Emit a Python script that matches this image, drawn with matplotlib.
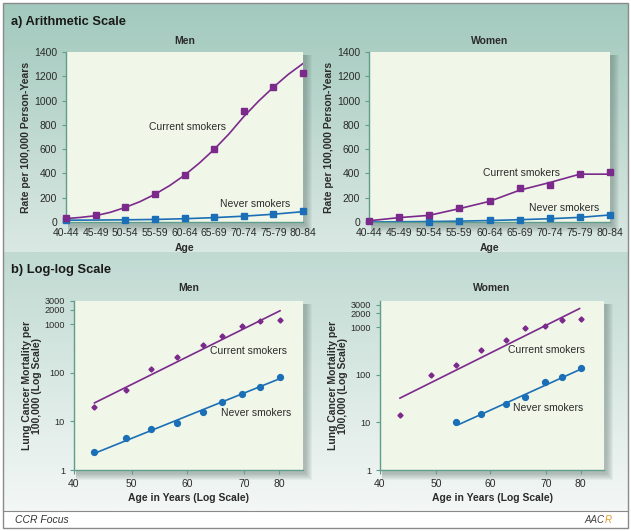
import numpy as np
import matplotlib.pyplot as plt
from matplotlib.patches import Rectangle

plt.rcParams['font.family'] = ['Liberation Sans', 'DejaVu Sans']

# ---- a) arithmetic scale data ----
age_groups = ['40-44', '45-49', '50-54', '55-59', '60-64', '65-69', '70-74', '75-79', '80-84']

men_current = [33, 61, 124, 229, 386, 598, 915, 1113, 1229]
men_never = [18, np.nan, 19, 22, 30, 39, 52, 66, 88]
# fitted curve, read at every half age group
men_current_fit_x = [0, 0.5, 1, 1.5, 2, 2.5, 3, 3.5, 4, 4.5, 5, 5.5, 6, 6.5, 7, 7.5, 8]
men_current_fit = [28, 38, 52, 80, 120, 168, 228, 300, 385, 485, 598, 725, 868, 995, 1110, 1215, 1305]
men_never_fit = [15, 16, 18, 21, 27, 36, 48, 64, 85]

women_current = [8, 39, 55, 116, 171, 281, 308, 394, 410]
women_current_fit = [10, 36, 55, 110, 170, 262, 325, 394, 394]
women_never = [np.nan, np.nan, 2, 10, 14, 19, 30, 39, 61]
women_never_fit = [0, 2, 4, 7, 12, 19, 27, 38, 58]

# ---- b) log-log scale data ----
ages = [44.4, 49.1, 53.2, 57.8, 62.7, 66.7, 71.1, 75.2, 80.2]
log_men_current = [19.8, 44.5, 121, 211, 368, 583, 924, 1172, 1230]
log_men_never = [2.3, 4.45, 6.9, 9.4, 15.6, 25, 36.8, 51.3, 82.7]
log_women_current = [14.4, 98, 160, 339, 536, 966, 1066, 1455, 1528]
log_women_never = [np.nan, np.nan, 10.4, 14.9, 23.9, 33.8, 70.5, 90.1, 140]

men_current_line = ([44.4, 80.2], [24, 1888])
men_never_line = ([44.4, 80.2], [2.2, 76])
women_current_line = ([44.4, 79.7], [32.6, 2495])
women_never_line = ([53.8, 79.7], [9.1, 129])

log_xtick_pos = [41.6, 50, 59.6, 71.5, 80]
log_xtick_labels = ['40', '50', '60', '70', '80']
log_yticks = [1, 10, 100, 1000, 2000, 3000]

PURPLE = '#7b2a8c'
BLUE = '#1b6fb6'
SPINE = '#5f9e8c'
FACE = '#f0f6e8'
TXT = '#2b2b2b'

W, H = 631, 531
fig = plt.figure(figsize=(W / 100, H / 100), dpi=100)

# background canvas in pixel coordinates
bg = fig.add_axes([0, 0, 1, 1], zorder=-10)
bg.axis('off')


def gradient(y0, y1, c0, c1):
    c0 = np.array(plt.matplotlib.colors.to_rgb(c0))
    c1 = np.array(plt.matplotlib.colors.to_rgb(c1))
    t = np.linspace(0, 1, 64)[:, None]
    img = (c0 * (1 - t) + c1 * t)[:, None, :]
    bg.imshow(img, extent=[3, 628, y1, y0], aspect='auto', interpolation='bilinear', zorder=0)


gradient(3, 252, '#a2c9bd', '#dae8e3')
gradient(252, 511, '#c0dad2', '#f3f7f5')
bg.add_patch(Rectangle((3, 511), 625, 17, facecolor='white', edgecolor='none', zorder=1))
bg.plot([3, 628], [511, 511], color='#8a8a8a', lw=0.8, zorder=2)
bg.add_patch(Rectangle((3, 3), 625, 525, facecolor='none', edgecolor='#8a8a8a', lw=1.0, zorder=3))
bg.set_xlim(0, W)
bg.set_ylim(H, 0)

bg.text(11, 22, 'a) Arithmetic Scale', fontsize=9.3, fontweight='bold', color='#1a1a1a', va='center')
bg.text(11, 270, 'b) Log-log Scale', fontsize=9.3, fontweight='bold', color='#1a1a1a', va='center')
bg.text(15, 520, 'CCR Focus', fontsize=7.5, style='italic', color='#333333', va='center')
bg.text(604, 520, 'AAC', fontsize=7, style='italic', color='#444444', va='center', ha='right')
bg.text(605, 520, 'R', fontsize=7, style='italic', color='#e39a2c', va='center', ha='left')


def make_axes(x0, x1, y0, y1):
    for k in range(1, 8):
        bg.add_patch(Rectangle((x0 + 2, y0 + 3), (x1 - x0) + k, (y1 - y0) + k,
                               facecolor='#5d706a', edgecolor='none', alpha=0.07, zorder=4))
    ax = fig.add_axes([x0 / W, 1 - y1 / H, (x1 - x0) / W, (y1 - y0) / H])
    ax.set_facecolor(FACE)
    for s in ['top', 'right']:
        ax.spines[s].set_visible(False)
    for s in ['left', 'bottom']:
        ax.spines[s].set_color(SPINE)
        ax.spines[s].set_linewidth(1.0)
    ax.tick_params(colors=SPINE, labelcolor=TXT, labelsize=7.5, length=3, width=0.8)
    return ax


def arith_panel(ax, title, cur, cur_fit_x, cur_fit, nev, nev_fit, labels):
    x = np.arange(len(age_groups))
    ax.plot(x, nev_fit, color=BLUE, lw=1.2, zorder=2)
    ax.plot(x, nev, 's', color=BLUE, ms=3.8, zorder=3, clip_on=False)
    ax.plot(cur_fit_x, cur_fit, color=PURPLE, lw=1.2, zorder=2)
    ax.plot(x, cur, 's', color=PURPLE, ms=3.8, zorder=3, clip_on=False)
    ax.set_xlim(0, 8)
    ax.set_ylim(0, 1400)
    ax.set_yticks(range(0, 1401, 200))
    ax.set_xticks(x)
    ax.set_xticklabels(age_groups)
    ax.tick_params(axis='x', length=0, pad=4)
    ax.set_title(title, fontsize=7.5, fontweight='bold', color=TXT, pad=6)
    ax.set_xlabel('Age', fontsize=7.5, fontweight='bold', color=TXT, labelpad=4)
    ax.set_ylabel('Rate per 100,000 Person-Years', fontsize=7.5, fontweight='bold', color=TXT, labelpad=2)
    for (tx, ty, s) in labels:
        ax.text(tx, ty, s, fontsize=7.5, color=TXT, ha='center', va='center')


def log_panel(ax, title, cur, nev, cur_line, nev_line, ytop, labels):
    ax.set_xscale('log')
    ax.set_yscale('log')
    ax.plot(*cur_line, color=PURPLE, lw=1.2, zorder=2)
    ax.plot(*nev_line, color=BLUE, lw=1.2, zorder=2)
    ax.plot(ages, cur, 'D', color=PURPLE, ms=2.6, zorder=3)
    ax.plot(ages, nev, 'o', color=BLUE, ms=4.2, zorder=3)
    ax.set_xlim(41.6, 86.3)
    ax.set_ylim(1, ytop)
    ax.set_xticks(log_xtick_pos)
    ax.set_xticklabels(log_xtick_labels)
    ax.set_xticks([], minor=True)
    ax.set_yticks(log_yticks)
    ax.set_yticklabels([str(v) for v in log_yticks])
    ax.set_yticks([], minor=True)
    ax.tick_params(axis='y', labelsize=6.6)
    ax.set_title(title, fontsize=7.5, fontweight='bold', color=TXT, pad=7)
    ax.set_xlabel('Age in Years (Log Scale)', fontsize=7.5, fontweight='bold', color=TXT, labelpad=3)
    ax.set_ylabel('Lung Cancer Mortality per\n100,000 (Log Scale)', fontsize=7.5,
                  fontweight='bold', color=TXT, labelpad=2, linespacing=1.0)
    for (tx, ty, s) in labels:
        ax.text(tx, ty, s, fontsize=7.5, color=TXT, ha='center', va='center')


ax1 = make_axes(66, 303, 52, 222)
arith_panel(ax1, 'Men', men_current, men_current_fit_x, men_current_fit, men_never, men_never_fit,
            [(4.1, 785, 'Current smokers'), (6.38, 148, 'Never smokers')])

ax2 = make_axes(369, 610, 52, 222)
arith_panel(ax2, 'Women', women_current, list(range(9)), women_current_fit, women_never, women_never_fit,
            [(5.05, 406, 'Current smokers'), (6.47, 113, 'Never smokers')])

ax3 = make_axes(74, 303, 301, 470)
log_panel(ax3, 'Men', log_men_current, log_men_never, men_current_line, men_never_line, 3000,
          [(72.6, 285, 'Current smokers'), (74.4, 14.7, 'Never smokers')])

ax4 = make_axes(380, 604, 301, 470)
log_panel(ax4, 'Women', log_women_current, log_women_never, women_current_line, women_never_line, 3600,
          [(71.6, 328, 'Current smokers'), (71.9, 20.3, 'Never smokers')])

fig.savefig('out.png', dpi=100)
